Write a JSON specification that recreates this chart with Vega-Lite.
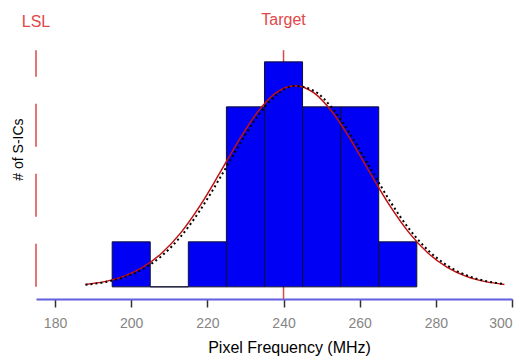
{
  "$schema": "https://vega.github.io/schema/vega-lite/v6.json",
  "width": 476,
  "height": 281,
  "autosize": {"type": "none"},
  "padding": {"left": 36, "top": 18, "right": 8, "bottom": 62},
  "background": "white",
  "config": {"view": {"stroke": null}, "font": "Liberation Sans"},
  "datasets": {
    "bins": [
      {"start": 195, "end": 205, "count": 1},
      {"start": 205, "end": 215, "count": 0},
      {"start": 215, "end": 225, "count": 1},
      {"start": 225, "end": 235, "count": 4},
      {"start": 235, "end": 245, "count": 5},
      {"start": 245, "end": 255, "count": 4},
      {"start": 255, "end": 265, "count": 4},
      {"start": 265, "end": 275, "count": 1}
    ],
    "fit": [
      {"f": 188, "red": 0.0538, "black": 0.0473},
      {"f": 193, "red": 0.116, "black": 0.103},
      {"f": 198, "red": 0.232, "black": 0.209},
      {"f": 203, "red": 0.432, "black": 0.393},
      {"f": 208, "red": 0.747, "black": 0.687},
      {"f": 213, "red": 1.2, "black": 1.118},
      {"f": 218, "red": 1.794, "black": 1.691},
      {"f": 223, "red": 2.492, "black": 2.376},
      {"f": 228, "red": 3.218, "black": 3.104},
      {"f": 233, "red": 3.862, "black": 3.77},
      {"f": 238, "red": 4.31, "black": 4.255},
      {"f": 243, "red": 4.47, "black": 4.466},
      {"f": 248, "red": 4.31, "black": 4.356},
      {"f": 253, "red": 3.862, "black": 3.95},
      {"f": 258, "red": 3.218, "black": 3.33},
      {"f": 263, "red": 2.492, "black": 2.609},
      {"f": 268, "red": 1.794, "black": 1.9},
      {"f": 273, "red": 1.2, "black": 1.286},
      {"f": 278, "red": 0.747, "black": 0.81},
      {"f": 283, "red": 0.432, "black": 0.474},
      {"f": 288, "red": 0.232, "black": 0.258},
      {"f": 293, "red": 0.116, "black": 0.13},
      {"f": 298, "red": 0.0538, "black": 0.0611}
    ],
    "limits": [
      {"name": "LSL", "value": 175, "lo": 0, "hi": 5.26, "labelY": 5.89},
      {"name": "Target", "value": 240, "lo": -0.27, "hi": 5.26, "labelY": 5.93}
    ]
  },
  "layer": [
    {
      "data": {"name": "limits"},
      "transform": [{"filter": "datum.name === 'Target'"}],
      "mark": {"type": "rule", "color": "#d94a4a", "strokeWidth": 1.5},
      "encoding": {
        "x": {"field": "value", "type": "quantitative", "scale": {"domain": [175, 300], "nice": false, "zero": false},
          "axis": {"title": "Pixel Frequency (MHz)", "values": [180, 200, 220, 240, 260, 280, 300], "domainColor": "#6060e0", "domainWidth": 2, "tickColor": "#333333", "tickSize": 8, "tickWidth": 1.5, "labelColor": "#858585", "labelFontSize": 14, "labelPadding": 9, "grid": false, "titleFontSize": 16, "titleFontWeight": "normal", "titleColor": "#000000", "titleX": 253, "titleY": 56, "titleBaseline": "bottom"}},
        "y": {"field": "lo", "type": "quantitative", "scale": {"domain": [-0.27, 5.975], "nice": false, "zero": false},
          "axis": {"title": "# of S-ICs", "domain": false, "ticks": false, "labels": false, "grid": false, "titleFontSize": 14, "titleFontWeight": "normal", "titleColor": "#000000", "titleX": -11, "titleY": 131, "titleAngle": -90, "titleBaseline": "bottom", "titleAlign": "center"}},
        "y2": {"field": "hi"}
      }
    },
    {
      "data": {"name": "bins"},
      "mark": {"type": "rect", "color": "#0000f5", "stroke": "#101030", "strokeWidth": 1},
      "encoding": {
        "x": {"field": "start", "type": "quantitative"},
        "x2": {"field": "end"},
        "y": {"field": "count", "type": "quantitative"},
        "y2": {"datum": 0}
      }
    },
    {
      "data": {"name": "fit"},
      "mark": {"type": "line", "color": "#c01010", "strokeWidth": 1.5, "interpolate": "monotone"},
      "encoding": {
        "x": {"field": "f", "type": "quantitative"},
        "y": {"field": "red", "type": "quantitative"}
      }
    },
    {
      "data": {"name": "fit"},
      "mark": {"type": "line", "color": "#000000", "strokeWidth": 2, "strokeDash": [2, 3], "interpolate": "monotone"},
      "encoding": {
        "x": {"field": "f", "type": "quantitative"},
        "y": {"field": "black", "type": "quantitative"}
      }
    },
    {
      "data": {"name": "limits"},
      "transform": [{"filter": "datum.name === 'LSL'"}],
      "mark": {"type": "rule", "color": "#d94a4a", "strokeWidth": 1.5, "strokeDash": [43, 27]},
      "encoding": {
        "x": {"field": "value", "type": "quantitative"},
        "y": {"field": "lo", "type": "quantitative"},
        "y2": {"field": "hi"}
      }
    },
    {
      "data": {"name": "limits"},
      "mark": {"type": "text", "color": "#e04848", "fontSize": 16, "baseline": "middle", "align": "center", "clip": false},
      "encoding": {
        "x": {"field": "value", "type": "quantitative"},
        "y": {"field": "labelY", "type": "quantitative"},
        "text": {"field": "name"}
      }
    }
  ]
}
